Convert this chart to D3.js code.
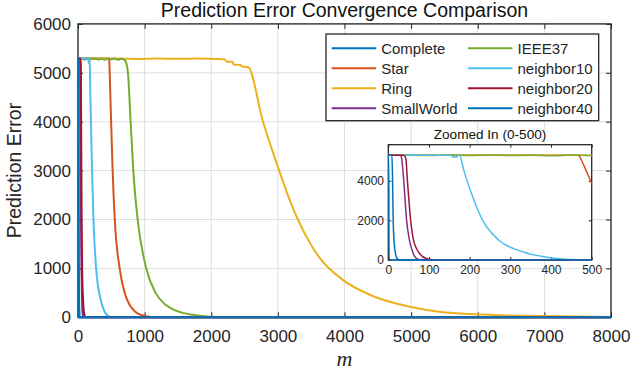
<!DOCTYPE html>
<html>
<head>
<meta charset="utf-8">
<script src="https://cdn.jsdelivr.net/npm/d3@7"></script>
<style>
	body { margin: 0; background: #fff; }
	svg { display: block; font-family: "Liberation Sans", Arial, sans-serif; }
	.tick text { fill: #262626; }
	.tick line { stroke: #262626; }
	.domain { display: none; }
</style>
</head>
<body>
<div id="chart"></div>
<script>
// series in plot order, legend is column-major with 2 columns
var seriesNames = ["Complete", "Star", "Ring", "SmallWorld", "IEEE37", "neighbor10", "neighbor20", "neighbor40"];
var seriesColors = ["#0072BD", "#D95319", "#EDB120", "#7E2F8E", "#77AC30", "#4DBEEE", "#A2142F", "#0072BD"];

var xTicks = [0, 1000, 2000, 3000, 4000, 5000, 6000, 7000, 8000];
var yTicks = [0, 1000, 2000, 3000, 4000, 5000, 6000];
var insetXTicks = [0, 100, 200, 300, 400, 500];
var insetYTicks = [0, 2000, 4000];

// [iteration m, prediction error]
var complete = [[0, 5290], [1, 5290], [2, 0], [8000, 0]];
var star = [[0, 5290], [465, 5290], [470, 5230], [480, 4800], [500, 3870], [520, 3000], [552, 2000], [625, 1000],
	[700, 500], [775, 250], [850, 125], [925, 60], [1000, 28], [1100, 8], [1250, 0], [8000, 0]];
var ring = [[0, 5290], [300, 5285], [600, 5295], [900, 5280], [1200, 5290], [1500, 5285], [1800, 5290], [2100, 5280],
	[2200, 5275], [2230, 5230], [2320, 5225], [2335, 5170], [2440, 5160], [2460, 5130], [2555, 5115], [2770, 4035],
	[3020, 3000], [3150, 2500], [3300, 2000], [3490, 1500], [3630, 1210], [3980, 760], [4450, 420], [4980, 217],
	[5450, 110], [5980, 61], [6980, 25], [8000, 8]];
var smallWorld = [[0, 5290], [30, 5290], [33, 5100], [38, 4000], [45, 2000], [52, 1000], [60, 400], [68, 100],
	[82, 0], [8000, 0]];
var ieee37 = [[0, 5290], [60, 5285], [100, 5270], [150, 5300], [200, 5275], [250, 5295], [300, 5270], [350, 5290],
	[400, 5265], [450, 5295], [500, 5275], [550, 5290], [600, 5265], [650, 5285], [700, 5260], [725, 5200],
	[750, 5000], [790, 4000], [830, 3000], [895, 2000], [1025, 1000], [1165, 500], [1320, 250], [1490, 125],
	[1720, 50], [2000, 12], [2400, 0], [8000, 0]];
var neighbor10 = [[0, 5290], [155, 5290], [158, 5200], [168, 5200], [172, 5290], [175, 5290], [186, 4500],
	[209, 3100], [232, 2000], [272, 1000], [330, 420], [398, 118], [450, 30], [520, 0], [8000, 0]];
var neighbor20 = [[0, 5290], [38, 5290], [43, 5150], [47, 4000], [55, 2000], [62, 1000], [78, 300], [95, 60],
	[115, 0], [8000, 0]];
var neighbor40 = [[0, 5290], [9, 5290], [10.5, 4000], [12, 2000], [14, 1000], [17, 400], [21, 100], [28, 0], [8000, 0]];

var seriesData = [complete, star, ring, smallWorld, ieee37, neighbor10, neighbor20, neighbor40];

var W = 631, H = 377;
var textColor = "#262626";

var svg = d3.select("#chart").append("svg").attr("width", W).attr("height", H);

// main axes
var x = d3.scaleLinear().domain([0, 8000]).range([78, 611]);
var y = d3.scaleLinear().domain([0, 6000]).range([317.3, 23.9]);

function drawGrid(g, sx, sy, xt, yt) {
	g.selectAll(".vgrid").data(xt).enter().append("line")
	 .attr("x1", d => sx(d)).attr("x2", d => sx(d))
	 .attr("y1", sy.range()[0]).attr("y2", sy.range()[1])
	 .attr("stroke", "#dedede").attr("stroke-width", 1);
	g.selectAll(".hgrid").data(yt).enter().append("line")
	 .attr("x1", sx.range()[0]).attr("x2", sx.range()[1])
	 .attr("y1", d => sy(d)).attr("y2", d => sy(d))
	 .attr("stroke", "#dedede").attr("stroke-width", 1);
}

function drawAxes(g, sx, sy, xt, yt, tick, fontSize, xPad, yPad) {
	var x0 = sx.range()[0], x1 = sx.range()[1];
	var y0 = sy.range()[0], y1 = sy.range()[1];

	g.append("rect")
	 .attr("x", x0).attr("y", y1)
	 .attr("width", x1 - x0).attr("height", y0 - y1)
	 .attr("fill", "none").attr("stroke", textColor).attr("stroke-width", 1.3);

	g.append("g").attr("transform", "translate(0," + y0 + ")")
	 .call(d3.axisBottom(sx).tickValues(xt).tickSizeInner(-tick).tickSizeOuter(0).tickPadding(xPad).tickFormat(d3.format("d")))
	 .call(a => a.selectAll("text").style("font-size", fontSize + "px"));
	g.append("g").attr("transform", "translate(0," + y1 + ")")
	 .call(d3.axisTop(sx).tickValues(xt).tickSizeInner(-tick).tickSizeOuter(0).tickFormat(""));
	g.append("g").attr("transform", "translate(" + x0 + ",0)")
	 .call(d3.axisLeft(sy).tickValues(yt).tickSizeInner(-tick).tickSizeOuter(0).tickPadding(yPad).tickFormat(d3.format("d")))
	 .call(a => a.selectAll("text").style("font-size", fontSize + "px"));
	g.append("g").attr("transform", "translate(" + x1 + ",0)")
	 .call(d3.axisRight(sy).tickValues(yt).tickSizeInner(-tick).tickSizeOuter(0).tickFormat(""));
	g.selectAll(".tick line").attr("stroke-width", 1);
	g.selectAll(".tick text").attr("fill", textColor);
}

function drawSeries(g, sx, sy, width) {
	var line = d3.line()
				 .x(d => sx(d[0]))
				 .y(d => sy(d[1]))
				 .curve(d3.curveMonotoneX);

	g.selectAll(".series").data(seriesData).enter().append("path")
	 .attr("class", "series")
	 .attr("d", line)
	 .attr("fill", "none")
	 .attr("stroke", (d, i) => seriesColors[i])
	 .attr("stroke-width", width)
	 .attr("stroke-linejoin", "round");
}

var main = svg.append("g");
drawGrid(main, x, y, xTicks, yTicks);
drawAxes(main, x, y, xTicks, yTicks, 5, 17, 13, 7);
drawSeries(main, x, y, 2);

// titles
svg.append("text")
   .attr("x", (x.range()[0] + x.range()[1]) / 2).attr("y", 17)
   .attr("text-anchor", "middle")
   .style("font-size", "19.5px").attr("fill", "#111")
   .text("Prediction Error Convergence Comparison");

svg.append("text")
   .attr("transform", "translate(21," + (y.range()[0] + y.range()[1]) / 2 + ") rotate(-90)")
   .attr("text-anchor", "middle")
   .style("font-size", "19.5px").attr("fill", textColor)
   .text("Prediction Error");

svg.append("text")
   .attr("x", (x.range()[0] + x.range()[1]) / 2).attr("y", 366)
   .attr("text-anchor", "middle")
   .style("font-family", "'Liberation Serif', 'Times New Roman', serif")
   .style("font-style", "italic")
   .style("font-size", "22px").attr("fill", textColor)
   .text("m");

// legend
var legend = svg.append("g");
legend.append("rect")
	  .attr("x", 326).attr("y", 34).attr("width", 272.7).attr("height", 86.7)
	  .attr("fill", "#fff").attr("stroke", textColor).attr("stroke-width", 1.3);

var items = legend.selectAll(".item").data(seriesNames).enter().append("g")
				  .attr("class", "item")
				  .attr("transform", (d, i) => "translate(" + (i < 4 ? 331.7 : 468) + "," + (48.3 + 20 * (i % 4)) + ")");

items.append("line")
	 .attr("x1", 0).attr("x2", 44.5).attr("y1", 0).attr("y2", 0)
	 .attr("stroke", (d, i) => seriesColors[i]).attr("stroke-width", 2);

items.append("text")
	 .attr("x", 49.5).attr("dy", "0.35em")
	 .style("font-size", "15px").attr("fill", textColor)
	 .text(d => d);

// zoomed inset
var ix = d3.scaleLinear().domain([0, 500]).range([388.3, 591.7]);
var iy = d3.scaleLinear().domain([0, 5820]).range([260, 144.7]);

var inset = svg.append("g");
inset.append("rect")
	 .attr("x", ix.range()[0]).attr("y", iy.range()[1])
	 .attr("width", ix.range()[1] - ix.range()[0]).attr("height", iy.range()[0] - iy.range()[1])
	 .attr("fill", "#fff");

svg.append("clipPath").attr("id", "insetClip")
   .append("rect")
   .attr("x", ix.range()[0] - 2).attr("y", iy.range()[1])
   .attr("width", ix.range()[1] - ix.range()[0] + 2).attr("height", iy.range()[0] - iy.range()[1] + 2);

drawAxes(inset, ix, iy, insetXTicks, insetYTicks, 3, 12, 5.5, 4.3);
drawSeries(inset.append("g").attr("clip-path", "url(#insetClip)"), ix, iy, 1.5);

inset.append("text")
	 .attr("x", (ix.range()[0] + ix.range()[1]) / 2).attr("y", 139.3)
	 .attr("text-anchor", "middle")
	 .style("font-size", "13.6px").attr("fill", "#111")
	 .text("Zoomed In (0-500)");
</script>
</body>
</html>
